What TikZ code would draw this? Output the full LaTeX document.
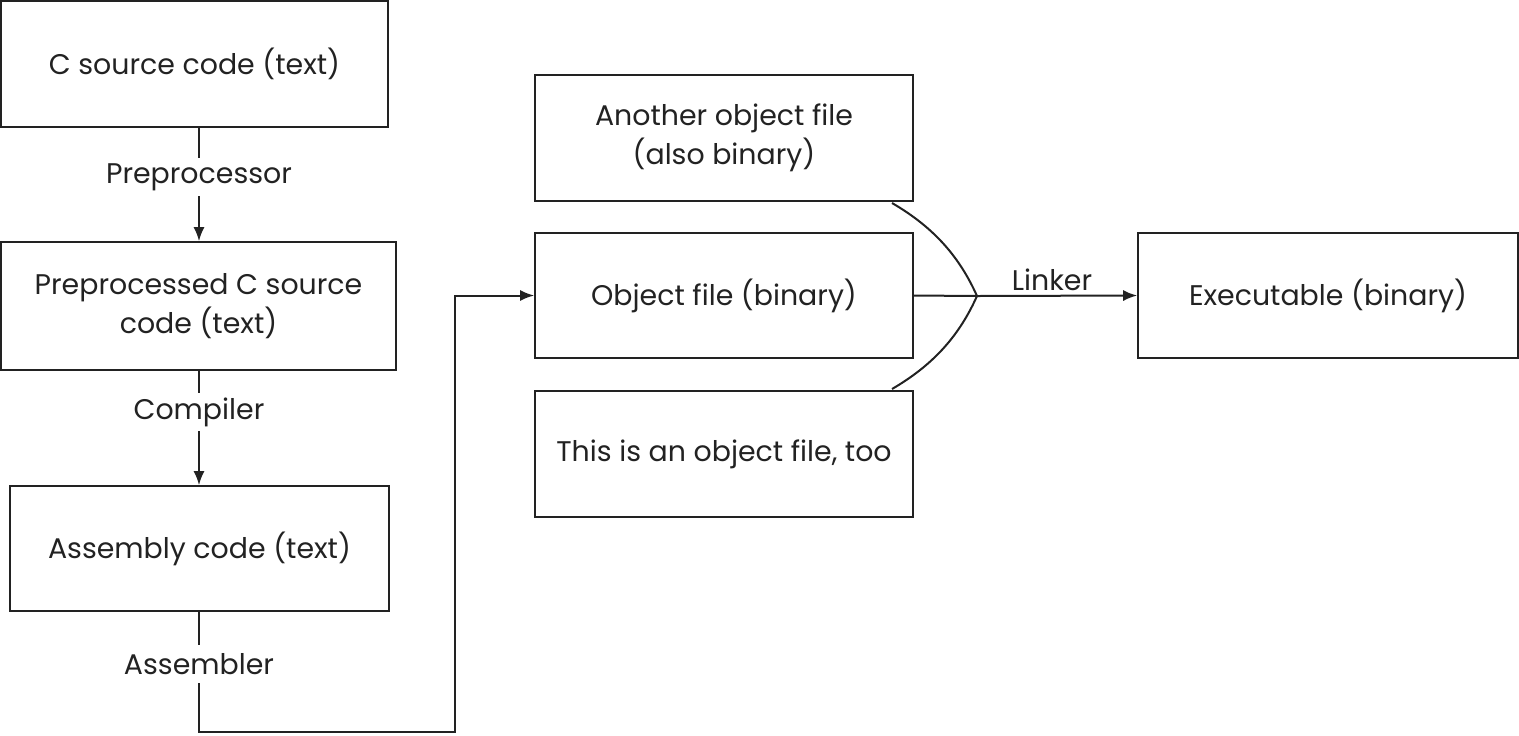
\documentclass[tikz,border=0pt]{standalone}
\usepackage{fontspec}
\setmainfont{Poppins}
\usetikzlibrary{arrows.meta}
\definecolor{ink}{HTML}{222222}
\tikzset{
  box/.style={draw=ink, line width=0.8pt, align=center, inner sep=0pt, font=\fontsize{14.2}{19.5}\selectfont, text=ink},
  lbl/.style={font=\fontsize{14.2}{18}\selectfont, text=ink, inner sep=0pt, minimum height=19pt},
  conn/.style={draw=ink, line width=1pt},
  arr/.style={conn, -{Latex[length=7pt,width=5.5pt]}}
}
\begin{document}
\begin{tikzpicture}[x=0.5pt,y=-0.5pt]
\useasboundingbox (0,0) rectangle (1519,735);
% boxes
\node[box, minimum width=193.5pt, minimum height=63pt] (A) at (194.5,64) {C source code (text)};
\node[box, minimum width=197.5pt, minimum height=64pt] (B) at (198.5,306) {Preprocessed C source\\code (text)};
\node[box, minimum width=189.5pt, minimum height=62.5pt] (C) at (199.5,548.5) {Assembly code (text)};
\node[box, minimum width=189pt, minimum height=63pt] (D) at (724,138) {Another object file\\(also binary)};
\node[box, minimum width=189pt, minimum height=62.5pt] (E) at (724,295.5) {Object file (binary)};
\node[box, minimum width=189pt, minimum height=63pt] (F) at (724,454) {This is an object file, too};
\node[box, minimum width=190pt, minimum height=62.5pt] (G) at (1328,295.5) {Executable (binary)};
% labels
\node[lbl] (pre) at (199,177) {Preprocessor};
\node[lbl] (cmp) at (199,412) {Compiler};
\node[lbl] (asm) at (199,664) {Assembler};
\node[lbl, anchor=south] (lnk) at (1052,299) {Linker};
% vertical connectors
\draw[conn] (A.south -| pre) -- (pre.north);
\draw[arr] (pre.south) -- (B.north -| pre);
\draw[conn] (B.south -| cmp) -- (cmp.north);
\draw[arr] (cmp.south) -- (C.north -| cmp);
\draw[conn] (C.south -| asm) -- (asm.north);
\coordinate (turn) at (455,732);
\draw[arr] (asm.south) |- (turn) |- (E.west);
% linker
\coordinate (j) at (977,296);
\coordinate (d1) at (892,203);
\coordinate (f1) at (892,389);
\draw[conn] (E.east) -- (j);
\draw[arr] (j) -- (G.west);
\draw[conn] (d1) .. controls (935,228) and (960,258) .. (j);
\draw[conn] (f1) .. controls (935,364) and (960,334) .. (j);
\end{tikzpicture}
\end{document}
